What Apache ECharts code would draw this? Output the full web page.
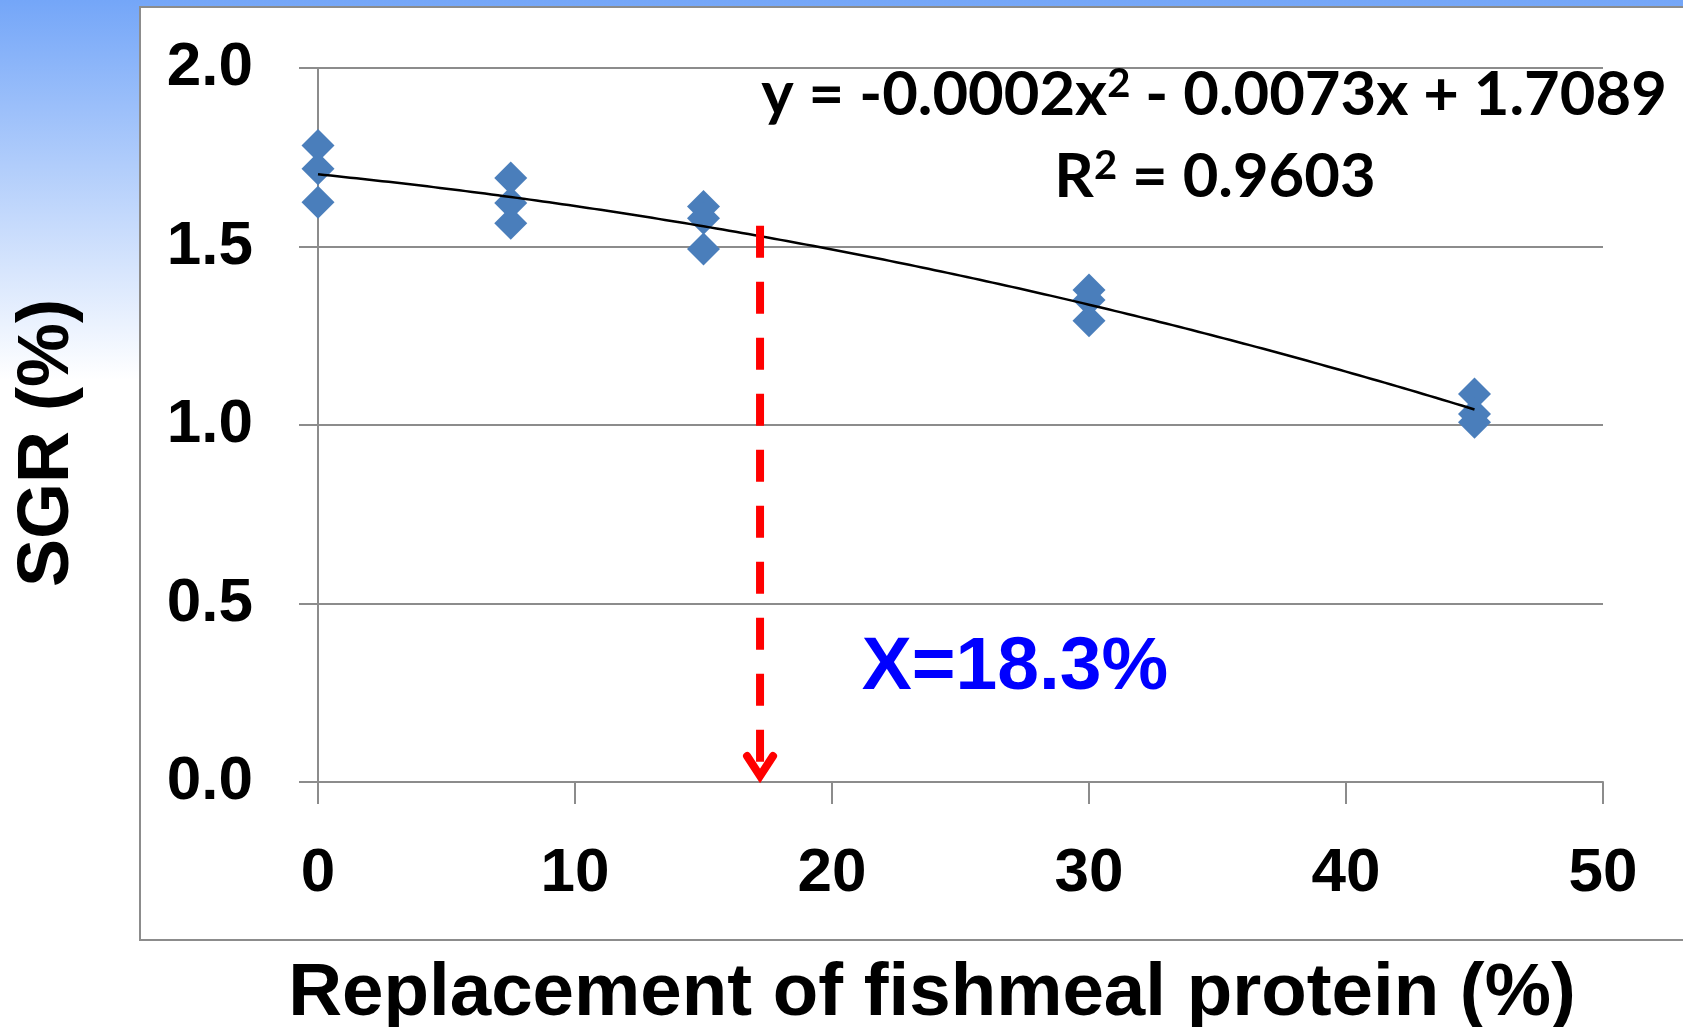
<!DOCTYPE html>
<html><head><meta charset="utf-8">
<script src="https://cdn.jsdelivr.net/npm/echarts@6/dist/echarts.min.js"></script>
<style>html,body{margin:0;padding:0;background:#fff}#c{width:1683px;height:1027px}</style>
</head><body><div id="c"></div>
<script>
// ---- data ----
const replacementLevels = [0, 0, 0, 7.5, 7.5, 7.5, 15, 15, 15, 30, 30, 30, 45, 45, 45];
const sgrValues = [1.783, 1.718, 1.624, 1.692, 1.622, 1.565, 1.612, 1.579, 1.493, 1.378, 1.350, 1.292, 1.087, 1.031, 1.008];
const xTickValues = [0, 10, 20, 30, 40, 50];
const yTickValues = [0.0, 0.5, 1.0, 1.5, 2.0];
const xAxisTitle = 'Replacement of fishmeal protein (%)';
const yAxisTitle = 'SGR (%)';
const eqPartA = 'y = -0.0002x';
const eqSup = '2';
const eqPartB = ' - 0.0073x + 1.7089';
const r2Label = 'R';
const r2Value = ' = 0.9603';
const optimumLabel = 'X=18.3%';
const arrowX = [17.2];
const arrowTop = [1.558];
const arrowBottom = [0];

// ---- quadratic least-squares trend line (as Excel's polynomial trendline) ----
function polyfit2(xs, ys) {
  let S = [0, 0, 0, 0, 0], T = [0, 0, 0];
  for (let i = 0; i < xs.length; i++) {
    let p = 1;
    for (let k = 0; k < 5; k++) { S[k] += p; if (k < 3) T[k] += p * ys[i]; p *= xs[i]; }
  }
  const A = [[S[0], S[1], S[2], T[0]], [S[1], S[2], S[3], T[1]], [S[2], S[3], S[4], T[2]]];
  for (let c = 0; c < 3; c++) {
    for (let r = c + 1; r < 3; r++) {
      const f = A[r][c] / A[c][c];
      for (let k = c; k < 4; k++) A[r][k] -= f * A[c][k];
    }
  }
  const s = [0, 0, 0];
  for (let r = 2; r >= 0; r--) {
    let v = A[r][3];
    for (let k = r + 1; k < 3; k++) v -= A[r][k] * s[k];
    s[r] = v / A[r][r];
  }
  return s; // c0, c1, c2
}
const coef = polyfit2(replacementLevels, sgrValues);
const xMin = Math.min(...replacementLevels), xMax = Math.max(...replacementLevels);
const trend = [];
for (let i = 0; i <= 180; i++) {
  const x = xMin + (xMax - xMin) * i / 180;
  trend.push([x, coef[0] + coef[1] * x + coef[2] * x * x]);
}

const points = replacementLevels.map((x, i) => [x, sgrValues[i]]);
const arrowData = arrowX.map((x, i) => [x, arrowTop[i], arrowBottom[i]]);

const FONT = "'Liberation Sans', Arial, sans-serif";
const EQFONT = "Lato, 'Open Sans', sans-serif";
const GRAY = '#8c8c8c';

const chart = echarts.init(document.getElementById('c'), null, { renderer: 'canvas' });
chart.setOption({
  backgroundColor: '#ffffff',
  animation: false,
  graphic: [
    { type: 'rect', z: -20, silent: true, shape: { x: 0, y: 0, width: 1683, height: 1027 },
      style: { fill: new echarts.graphic.LinearGradient(0, 0, 0, 1, [
        { offset: 0, color: '#74a6f8' }, { offset: 0.37, color: '#ffffff' }, { offset: 1, color: '#ffffff' }]) } },
    { type: 'rect', z: -10, silent: true, shape: { x: 140, y: 7, width: 1600, height: 933 },
      style: { fill: '#ffffff', stroke: GRAY, lineWidth: 2 } },
    { type: 'text', z: 10, x: 1214, y: 95, silent: true,
      style: { text: '{m|' + eqPartA + '}{s|' + eqSup + '}{m|' + eqPartB + '}', align: 'center', verticalAlign: 'middle',
        rich: { m: { fontFamily: EQFONT, fontWeight: 'bold', fontSize: 61.5, lineHeight: 62, fill: '#000' },
                s: { fontFamily: EQFONT, fontWeight: 'bold', fontSize: 40, lineHeight: 62, verticalAlign: 'top', fill: '#000' } } } },
    { type: 'text', z: 10, x: 1215, y: 177, silent: true,
      style: { text: '{m|' + r2Label + '}{s|2}{m|' + r2Value + '}', align: 'center', verticalAlign: 'middle',
        rich: { m: { fontFamily: EQFONT, fontWeight: 'bold', fontSize: 61.5, lineHeight: 62, fill: '#000' },
                s: { fontFamily: EQFONT, fontWeight: 'bold', fontSize: 40, lineHeight: 62, verticalAlign: 'top', fill: '#000' } } } },
    { type: 'text', z: 10, x: 1015, y: 668, silent: true,
      style: { text: optimumLabel, align: 'center', verticalAlign: 'middle', fontFamily: FONT, fontWeight: 'bold', fontSize: 75, fill: '#0000ff' } }
  ],
  grid: { left: 318, top: 68, width: 1285, height: 714, containLabel: false, outerBoundsMode: 'none' },
  xAxis: {
    type: 'value', min: 0, max: 50, interval: 10,
    name: xAxisTitle, nameLocation: 'middle', nameGap: 175,
    nameTextStyle: { fontFamily: FONT, fontWeight: 'bold', fontSize: 74.5, color: '#000', padding: [0, 57, 0, 0] },
    axisLine: { show: true, onZero: false, lineStyle: { color: GRAY, width: 2 } },
    axisTick: { show: true, inside: false, length: 22, lineStyle: { color: GRAY, width: 2 } },
    axisLabel: { margin: 61, fontFamily: FONT, fontWeight: 'bold', fontSize: 62, color: '#000',
      customValues: xTickValues, formatter: v => String(v) },
    splitLine: { show: false }
  },
  yAxis: {
    type: 'value', min: 0, max: 2, interval: 0.5,
    name: yAxisTitle, nameLocation: 'middle', nameRotate: 90, nameGap: 234,
    nameTextStyle: { fontFamily: FONT, fontWeight: 'bold', fontSize: 72, color: '#000', padding: [0, 36, 0, 0] },
    axisLine: { show: true, lineStyle: { color: GRAY, width: 2 } },
    axisTick: { show: true, inside: false, length: 19, lineStyle: { color: GRAY, width: 2 } },
    axisLabel: { margin: 65, fontFamily: FONT, fontWeight: 'bold', fontSize: 62, color: '#000',
      padding: [3, 0, 0, 0], formatter: v => v.toFixed(1) },
    splitLine: { show: true, lineStyle: { color: GRAY, width: 2 } }
  },
  series: [
    { type: 'scatter', name: 'SGR', data: points, symbol: 'diamond', symbolSize: 33, z: 3,
      itemStyle: { color: '#4a7ebb', opacity: 1 } },
    { type: 'line', name: 'Poly. trend', data: trend, showSymbol: false, symbol: 'none', z: 4,
      lineStyle: { color: '#000000', width: 2.5 } },
    { type: 'custom', name: 'optimum', data: arrowData, z: 5, silent: true,
      renderItem: function (params, api) {
        const top = api.coord([api.value(0), api.value(1)]);
        const bot = api.coord([api.value(0), api.value(2)]);
        const tipY = bot[1];
        return { type: 'group', children: [
          { type: 'line', shape: { x1: top[0], y1: top[1], x2: top[0], y2: tipY - 20 },
            style: { stroke: '#ff0000', lineWidth: 8, lineDash: [32, 24], lineCap: 'butt' } },
          { type: 'polyline', shape: { points: [[top[0] - 13, tipY - 26], [top[0], tipY - 6], [top[0] + 13, tipY - 26]] },
            style: { stroke: '#ff0000', lineWidth: 8, fill: null, lineCap: 'round', lineJoin: 'miter' } }
        ] };
      } }
  ]
});
</script>
</body></html>
